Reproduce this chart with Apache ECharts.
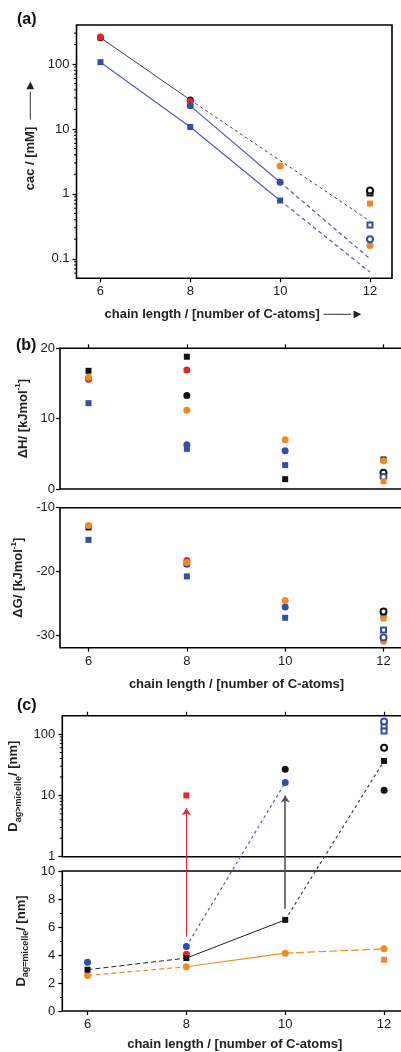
<!DOCTYPE html>
<html>
<head>
<meta charset="utf-8">
<script src="https://cdn.jsdelivr.net/npm/echarts@6/dist/echarts.min.js"></script>
<style>
  html, body { margin: 0; padding: 0; background: #fff; }
  #main { width: 401px; height: 1052px; }
</style>
</head>
<body>
<div id="main"></div>
<script>
const FONT = 'Liberation Sans, Arial, sans-serif';
const BLACK = '#111';
const RED = '#e5232a';
const ORANGE = '#f38a1f';
const BLUE = '#334ea6';
const BLUE_LINE = '#5558cc';
const GREY_LINE = '#444';

const xTicks = [6, 8, 10, 12];

// (a) cac vs chain length (log axis)
const cacTicks = [0.1, 1, 10, 100];
const cacMinor = [0.06, 0.07, 0.08, 0.09, 0.2, 0.3, 0.4, 0.5, 0.6, 0.7, 0.8, 0.9,
  2, 3, 4, 5, 6, 7, 8, 9, 20, 30, 40, 50, 60, 70, 80, 90, 200, 300];
const cacBlackCircle = [[6, 255], [8, 28]];
const cacRedCircle = [[6, 262], [8, 26.5]];
const cacBlueCircle = [[8, 22.7], [10, 1.51]];
const cacBlueSquare = [[6, 107], [8, 10.7], [10, 0.79]];
const cacOrangeCircle = [[10, 2.68], [12, 0.16]];
const cacOrangeSquare = [[12, 0.71]];
const cacBlackOpenCircle = [[12, 1.13]];
const cacBlackOpenSquare = [[12, 1.03]];
const cacBlueOpenSquare = [[12, 0.33]];
const cacBlueOpenCircle = [[12, 0.20]];
const cacBlackFit = [[8, 28], [12, 0.38]];
const cacBlueCircleFit = [[10, 1.51], [12, 0.10]];
const cacBlueSquareFit = [[10, 0.79], [12, 0.062]];

// (b) enthalpy and Gibbs energy
const dHBlackSquare = [[6, 16.8], [8, 18.8], [10, 1.4], [12, 4.2]];
const dHOrangeCircle = [[6, 15.9], [8, 11.2], [10, 7.0], [12, 4.0]];
const dHRedCircle = [[6, 15.6], [8, 16.9]];
const dHBlueSquare = [[6, 12.2], [8, 5.7], [10, 3.4]];
const dHBlackCircle = [[8, 13.3]];
const dHBlueCircle = [[8, 6.3], [10, 5.45]];
const dHBlackOpenCircle = [[12, 2.3]];
const dHBlueOpenCircle = [[12, 1.7]];
const dHOrangeSquare = [[12, 1.1]];

const dGTicks = [-30, -20, -10];
const dGBlackSquare = [[6, -13.1], [8, -18.8], [12, -26.8]];
const dGOrangeCircle = [[6, -12.8], [8, -18.6], [10, -24.6], [12, -31.0]];
const dGRedCircle = [[8, -18.3]];
const dGBlueSquare = [[6, -15.05], [8, -20.8], [10, -27.3]];
const dGBlueCircle = [[8, -18.9], [10, -25.6]];
const dGBlackOpenCircle = [[12, -26.3]];
const dGOrangeSquare = [[12, -27.4]];
const dGBlueOpenSquare = [[12, -29.2]];
const dGBlueOpenCircle = [[12, -30.4]];

// (c) aggregate diameters
const bigTicks = [1, 10, 100];
const bigMinor = [2, 3, 4, 5, 6, 7, 8, 9, 20, 30, 40, 50, 60, 70, 80, 90];
const bigRedSquare = [[8, 10]];
const bigBlackCircle = [[10, 26.8], [12, 12.2]];
const bigBlueCircle = [[10, 16.2]];
const bigBlueOpenCircle = [[12, 161]];
const bigBlueOpenSquare = [[12, 135], [12, 113]];
const bigBlackOpenCircle = [[12, 60]];
const bigBlackSquare = [[12, 36.6]];

const micBlueCircle = [[6, 3.49], [8, 4.61]];
const micBlackSquare = [[6, 2.95], [8, 3.78], [10, 6.51]];
const micOrangeCircle = [[6, 2.54], [8, 3.16], [10, 4.13], [12, 4.44]];
const micRedCircle = [[8, 4.06]];
const micOrangeSquare = [[12, 3.66]];

// arrows: [x, start (lower panel), tip (upper panel)]
const redArrow = [8, 5.3, 6.2];
const blackArrow = [10, 7.3, 10];

// axis index pairs [xAxisIndex, yAxisIndex]
const PA = [0, 0], PBH = [1, 1], PBG = [3, 2], PCU = [4, 3], PCL = [6, 4];
const XMIN_A = 5.467, XMIN_C = 5.49;

const labelStyle = { fontFamily: FONT, fontSize: 13, color: '#222' };
const nameStyle = { fontFamily: FONT, fontSize: 13, fontWeight: 'bold', color: '#222' };
const richName = {
  t: { fontFamily: FONT, fontSize: 13, fontWeight: 'bold', color: '#222', lineHeight: 18 },
  sub: { fontFamily: FONT, fontSize: 9, fontWeight: 'bold', color: '#222', lineHeight: 10, verticalAlign: 'bottom' },
  sup: { fontFamily: FONT, fontSize: 8, fontWeight: 'bold', color: '#222', lineHeight: 9, verticalAlign: 'top' }
};

function gridBox(left, top, width, height) {
  return { left, top, width, height, show: true, borderColor: '#000', borderWidth: 1.6,
    backgroundColor: 'transparent', outerBoundsMode: 'none', containLabel: false };
}

function xAx(grid, min, max, extra) {
  return Object.assign({
    type: 'value', gridIndex: grid, min, max, position: 'bottom',
    axisLine: { show: false },
    axisTick: { show: true, length: 4, customValues: xTicks, lineStyle: { color: '#000', width: 1.2 } },
    axisLabel: { show: true, customValues: xTicks, margin: 7, ...labelStyle },
    splitLine: { show: false }
  }, extra || {});
}

function pts(p, data, symbol, color, size) {
  const empty = symbol.indexOf('empty') === 0;
  return {
    type: 'scatter', xAxisIndex: p[0], yAxisIndex: p[1], data, symbol,
    symbolSize: size, z: 5,
    itemStyle: empty
      ? { color: color, borderColor: color, borderWidth: 1.3, opacity: 1 }
      : { color: color, borderWidth: 0, opacity: 1 }
  };
}

function seg(p, data, color, type, width) {
  return {
    type: 'line', xAxisIndex: p[0], yAxisIndex: p[1], data, symbol: 'none', z: 3,
    lineStyle: { color, type, width: width || 1 }
  };
}

// minor ticks of a log axis, placed through the axis scale
function minorTicks(p, values, xMin) {
  return {
    type: 'custom', xAxisIndex: p[0], yAxisIndex: p[1], clip: false, silent: true, z: 6,
    data: values.map(v => [xMin, v]),
    renderItem: function (params, api) {
      const c = api.coord([api.value(0), api.value(1)]);
      return {
        type: 'line',
        shape: { x1: c[0] - 2.5, y1: c[1], x2: c[0], y2: c[1] },
        style: { stroke: '#000', lineWidth: 1 }
      };
    }
  };
}

const C = 7, S = 6, O = 6;

const option = {
  animation: false,
  backgroundColor: '#fff',
  title: [
    { text: '(a)', left: 12, top: 7, textStyle: { fontFamily: FONT, fontSize: 16, fontWeight: 'bold', color: '#111' } },
    { text: '(b)', left: 11, top: 333, textStyle: { fontFamily: FONT, fontSize: 16, fontWeight: 'bold', color: '#111' } },
    { text: '(c)', left: 12, top: 693, textStyle: { fontFamily: FONT, fontSize: 16, fontWeight: 'bold', color: '#111' } }
  ],
  grid: [
    gridBox(76.5, 25, 315.5, 253.3),
    gridBox(60, 348.3, 353, 140.7),
    gridBox(60, 507.7, 353, 140),
    gridBox(62.3, 715.7, 345, 141),
    gridBox(62.3, 871, 345, 140)
  ],
  xAxis: [
    xAx(0, XMIN_A, 12.49, {
      name: 'chain length / [number of C-atoms] \u2500\u2500\u2500\u25BA',
      nameLocation: 'middle', nameGap: 30, nameTextStyle: nameStyle
    }),
    xAx(1, 5.42, 12.6, { axisTick: { show: false }, axisLabel: { show: false } }),
    xAx(1, 5.42, 12.6, { position: 'top', axisLabel: { show: false } }),
    xAx(2, 5.42, 12.6, {
      name: 'chain length / [number of C-atoms]',
      nameLocation: 'middle', nameGap: 30, nameTextStyle: nameStyle
    }),
    xAx(3, XMIN_C, 12.47, { axisTick: { show: false }, axisLabel: { show: false } }),
    xAx(3, XMIN_C, 12.47, { position: 'top', axisLabel: { show: false } }),
    xAx(4, XMIN_C, 12.47, {
      name: 'chain length / [number of C-atoms]',
      nameLocation: 'middle', nameGap: 27, nameTextStyle: nameStyle
    })
  ],
  yAxis: [
    {
      type: 'log', gridIndex: 0, min: 0.05, max: 400, position: 'left',
      axisLine: { show: false },
      axisTick: { length: 4, customValues: cacTicks, lineStyle: { color: '#000', width: 1.2 } },
      axisLabel: { customValues: cacTicks, margin: 7, ...labelStyle },
      splitLine: { show: false },
      name: 'cac / [mM]  \u2500\u2500\u2500\u25BA', nameLocation: 'middle', nameGap: 28, nameRotate: 90,
      nameTextStyle: { ...nameStyle, padding: [0, 0, 0, 34] }
    },
    {
      type: 'value', gridIndex: 1, min: 0, max: 20, interval: 10, position: 'left',
      axisLine: { show: false },
      axisTick: { length: 4, lineStyle: { color: '#000', width: 1.2 } },
      axisLabel: { margin: 5, ...labelStyle },
      splitLine: { show: false },
      name: '{t|\u0394H/ [kJmol}{sup|-1}{t|]}', nameLocation: 'middle', nameGap: 28, nameRotate: 90,
      nameTextStyle: { rich: richName }
    },
    {
      type: 'value', gridIndex: 2, min: -32, max: -10, position: 'left',
      axisLine: { show: false },
      axisTick: { length: 4, customValues: dGTicks, lineStyle: { color: '#000', width: 1.2 } },
      axisLabel: { customValues: dGTicks, margin: 5, ...labelStyle },
      splitLine: { show: false },
      name: '{t|\u0394G/ [kJmol}{sup|-1}{t|]}', nameLocation: 'middle', nameGap: 28, nameRotate: 90,
      nameTextStyle: { rich: richName }
    },
    {
      type: 'log', gridIndex: 3, min: 1, max: 200, position: 'left',
      axisLine: { show: false },
      axisTick: { length: 4, customValues: bigTicks, lineStyle: { color: '#000', width: 1.2 } },
      axisLabel: { customValues: bigTicks, margin: 7, ...labelStyle },
      splitLine: { show: false },
      name: '{t|D}{sub|ag>micelle}{t|/ [nm]}', nameLocation: 'middle', nameGap: 29, nameRotate: 90,
      nameTextStyle: { rich: richName }
    },
    {
      type: 'value', gridIndex: 4, min: 0, max: 10, interval: 2, position: 'left',
      axisLine: { show: false },
      axisTick: { length: 4, lineStyle: { color: '#000', width: 1.2 } },
      minorTick: { show: true, splitNumber: 2, length: 2.5, lineStyle: { color: '#000', width: 1 } },
      axisLabel: { margin: 7, ...labelStyle },
      splitLine: { show: false },
      name: '{t|D}{sub|ag=micelle}{t|/ [nm]}', nameLocation: 'middle', nameGap: 29, nameRotate: 90,
      nameTextStyle: { rich: richName }
    }
  ],
  series: [
    minorTicks(PA, cacMinor, XMIN_A),
    minorTicks(PCU, bigMinor, XMIN_C),

    // (a) lines
    seg(PA, cacBlackCircle, GREY_LINE, 'solid', 1),
    seg(PA, cacBlackFit, GREY_LINE, [3, 3], 1),
    seg(PA, cacBlueCircle, BLUE_LINE, 'solid', 1.2),
    seg(PA, cacBlueCircleFit, BLUE_LINE, [4, 3], 1.2),
    seg(PA, cacBlueSquare, BLUE_LINE, 'solid', 1.2),
    seg(PA, cacBlueSquareFit, BLUE_LINE, [4, 3], 1.2),
    // (a) markers
    pts(PA, cacBlackCircle, 'circle', BLACK, C),
    pts(PA, cacRedCircle, 'circle', RED, C),
    pts(PA, cacBlueCircle, 'circle', BLUE, C),
    pts(PA, cacBlueSquare, 'rect', BLUE, S),
    pts(PA, cacOrangeCircle, 'circle', ORANGE, C),
    pts(PA, cacOrangeSquare, 'rect', ORANGE, S),
    pts(PA, cacBlackOpenSquare, 'emptyRect', BLACK, O - 1),
    pts(PA, cacBlackOpenCircle, 'emptyCircle', BLACK, O),
    pts(PA, cacBlueOpenSquare, 'emptyRect', BLUE, O - 1),
    pts(PA, cacBlueOpenCircle, 'emptyCircle', BLUE, O),

    // (b) dH
    pts(PBH, dHBlackSquare, 'rect', BLACK, S),
    pts(PBH, dHRedCircle, 'circle', RED, C),
    pts(PBH, dHOrangeCircle, 'circle', ORANGE, C),
    pts(PBH, dHBlackCircle, 'circle', BLACK, C),
    pts(PBH, dHBlueSquare, 'rect', BLUE, S),
    pts(PBH, dHBlueCircle, 'circle', BLUE, C),
    pts(PBH, dHBlackOpenCircle, 'emptyCircle', BLACK, O),
    pts(PBH, dHBlueOpenCircle, 'emptyCircle', BLUE, O),
    pts(PBH, dHOrangeSquare, 'rect', ORANGE, S),
    // (b) dG
    pts(PBG, dGBlackSquare, 'rect', BLACK, S),
    pts(PBG, dGRedCircle, 'circle', RED, C),
    pts(PBG, dGBlueCircle, 'circle', BLUE, C),
    pts(PBG, dGOrangeCircle, 'circle', ORANGE, C),
    pts(PBG, dGBlueSquare, 'rect', BLUE, S),
    pts(PBG, dGBlackOpenCircle, 'emptyCircle', BLACK, O),
    pts(PBG, dGOrangeSquare, 'rect', ORANGE, S),
    pts(PBG, dGBlueOpenSquare, 'emptyRect', BLUE, O - 1),
    pts(PBG, dGBlueOpenCircle, 'emptyCircle', BLUE, O),

    // (c) upper
    pts(PCU, bigRedSquare, 'rect', RED, S),
    pts(PCU, bigBlackCircle, 'circle', BLACK, C),
    pts(PCU, bigBlueCircle, 'circle', BLUE, C),
    pts(PCU, bigBlueOpenSquare, 'emptyRect', BLUE, O - 1),
    pts(PCU, bigBlueOpenCircle, 'emptyCircle', BLUE, O),
    pts(PCU, bigBlackOpenCircle, 'emptyCircle', BLACK, O),
    pts(PCU, bigBlackSquare, 'rect', BLACK, S),

    // (c) lower lines
    seg(PCL, micBlackSquare.slice(0, 2), '#222', [5, 3], 1),
    seg(PCL, micBlackSquare.slice(1, 3), '#222', 'solid', 1),
    seg(PCL, micOrangeCircle.slice(0, 2), ORANGE, [5, 3], 1.2),
    seg(PCL, micOrangeCircle.slice(1, 3), ORANGE, 'solid', 1.2),
    seg(PCL, micOrangeCircle.slice(2, 4), ORANGE, [8, 3], 1.2),
    // (c) lower markers
    pts(PCL, micBlueCircle, 'circle', BLUE, C),
    pts(PCL, micOrangeCircle, 'circle', ORANGE, C),
    pts(PCL, micRedCircle, 'circle', RED, C),
    pts(PCL, micBlackSquare, 'rect', BLACK, S),
    pts(PCL, micOrangeSquare, 'rect', ORANGE, S)
  ]
};

const chart = echarts.init(document.getElementById('main'));
chart.setOption(option);

// connectors that cross the axis break: express the upper-panel end in lower-panel units
function upperToLower(pt) {
  const px = chart.convertToPixel({ xAxisIndex: PCU[0], yAxisIndex: PCU[1] }, pt);
  return chart.convertFromPixel({ xAxisIndex: PCL[0], yAxisIndex: PCL[1] }, px);
}

function connector(from, toUpper, color, type, width, arrow) {
  return {
    type: 'lines', coordinateSystem: 'cartesian2d',
    xAxisIndex: PCL[0], yAxisIndex: PCL[1], clip: false, z: 2,
    symbol: arrow ? ['none', 'arrow'] : ['none', 'none'], symbolSize: 7,
    lineStyle: { color, type, width, opacity: 1 },
    data: [{ coords: [from, upperToLower(toUpper)] }]
  };
}

option.series.push(
  connector(micBlueCircle[1], bigBlueCircle[0], BLUE_LINE, [3, 3], 1.2, false),
  connector(micBlackSquare[2], bigBlackSquare[0], GREY_LINE, [3, 3], 1.2, false),
  connector([redArrow[0], redArrow[1]], [redArrow[0], redArrow[2]], RED, 'solid', 1, true),
  connector([blackArrow[0], blackArrow[1]], [blackArrow[0], blackArrow[2]], '#555', 'solid', 1.6, true)
);
chart.setOption(option, true);
</script>
</body>
</html>
